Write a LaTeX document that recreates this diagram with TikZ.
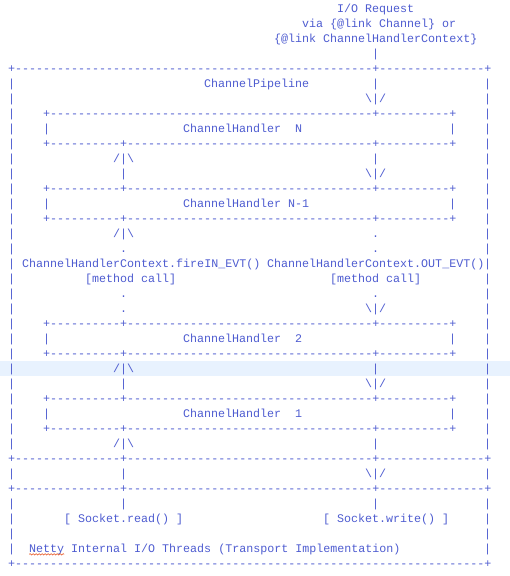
\documentclass[tikz,border=0pt]{standalone}
\usepackage{fontspec}
\setmonofont{Liberation Mono}
\usetikzlibrary{decorations.pathmorphing}
\definecolor{asciiblue}{RGB}{78,92,208}
\definecolor{linehl}{RGB}{232,242,254}
\definecolor{spellred}{RGB}{230,90,40}
\newcommand\asciifont{\ttfamily\fontsize{11.67pt}{15pt}\selectfont}
\newcommand\dashes[1]{\foreach\k in {1,...,#1}{-}}
\newcommand\bs{\textbackslash}
\tikzset{
  ascii/.style={anchor=base west, inner sep=0pt, outer sep=0pt, font=\asciifont, text=asciiblue},
}

\begin{document}
\begin{tikzpicture}[x=7pt,y=-15pt]
\useasboundingbox (0pt,0pt) rectangle (510pt,-576pt);
\fill[linehl] (0pt,-361pt) rectangle (510pt,-376pt);
\begin{scope}[shift={(8.2pt,-12.3pt)}]
\node[ascii] (req) at (47,0) {I/O Request};
\node[ascii] (via) at (42,1) {via \{@link Channel\} or};
\node[ascii] (ctx) at (38,2) {\{@link ChannelHandlerContext\}};
\node[ascii] (pipetop) at (0,4) {+\dashes{51}+\dashes{15}+};
\node[ascii] (pipe) at (28,5) {ChannelPipeline};
\node[ascii] (hNtop) at (5,7) {+\dashes{46}+\dashes{10}+};
\node[ascii] (fire) at (2,17) {ChannelHandlerContext.fireIN\_EVT()};
\node[ascii] (out) at (37,17) {ChannelHandlerContext.OUT\_EVT()};
\node[ascii] (callin) at (11,18) {[method call]};
\node[ascii] (callout) at (46,18) {[method call]};
\node[ascii] (iotop) at (0,30) {+\dashes{15}+\dashes{35}+\dashes{15}+};
\node[ascii] (iomid) at (0,32) {+\dashes{15}+\dashes{35}+\dashes{15}+};
\node[ascii] (sread) at (8,34) {[ Socket.read() ]};
\node[ascii] (swrite) at (45,34) {[ Socket.write() ]};
\node[ascii] (netty) at (3,36) {Netty Internal I/O Threads (Transport Implementation)};
\node[ascii] (iobot) at (0,37) {+\dashes{67}+};
\draw[spellred, line width=0.6pt, decorate, decoration={snake, amplitude=0.7pt, segment length=3pt}]
  ([yshift=-2pt]netty.base west) -- ++(35pt,0);
\foreach \r in {5,...,29,31,33,34,35,36} {
  \node[ascii] (lb\r) at (0,\r) {|};
  \node[ascii] (rb\r) at (68,\r) {|};
}
\foreach \r/\t in {8/{ChannelHandler\ \ N},13/{ChannelHandler N-1},22/{ChannelHandler\ \ 2},27/{ChannelHandler\ \ 1}} {
  \node[ascii] (hl\r) at (5,\r) {|};
  \node[ascii] (h\r) at (25,\r) {\t};
  \node[ascii] (hr\r) at (63,\r) {|};
}
\foreach \r in {9,12,14,21,23,26,28}
  \node[ascii] (sep\r) at (5,\r) {+\dashes{10}+\dashes{35}+\dashes{10}+};
\foreach \r in {10,15,24,29}
  \node[ascii] (up\r) at (15,\r) {/|\bs};
\foreach \r in {11,25,31,33}
  \node[ascii] (upbar\r) at (16,\r) {|};
\foreach \r in {16,19,20}
  \node[ascii] (updot\r) at (16,\r) {.};
\foreach \r in {6,11,20,25,31}
  \node[ascii] (down\r) at (51,\r) {\bs|/};
\foreach \r in {3,5,10,24,29,33}
  \node[ascii] (downbar\r) at (52,\r) {|};
\foreach \r in {15,16,19}
  \node[ascii] (downdot\r) at (52,\r) {.};
\end{scope}
\end{tikzpicture}
\end{document}
